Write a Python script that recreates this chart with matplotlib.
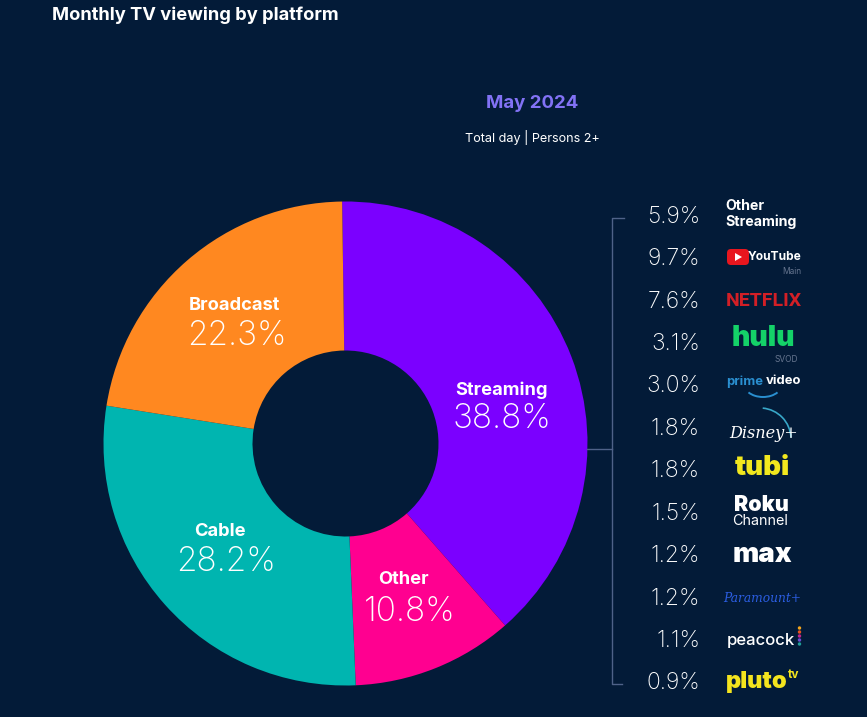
import matplotlib
matplotlib.use("Agg")
import matplotlib.pyplot as plt
from matplotlib.patches import FancyBboxPatch, Polygon, Arc, Circle

platforms = ["Streaming", "Other", "Cable", "Broadcast"]
shares = [38.8, 10.8, 28.2, 22.3]
platform_colors = ["#7B00FF", "#FF0090", "#00B5B0", "#FF8820"]
name_pos = [(502, 390), (403, 579), (219.5, 531), (234.5, 305)]
value_pos = [(502, 419), (410, 612), (226, 562), (236.5, 336)]

stream_values = ["5.9%", "9.7%", "7.6%", "3.1%", "3.0%", "1.8%", "1.8%", "1.5%", "1.2%", "1.2%", "1.1%", "0.9%"]
stream_y = [217, 259, 302, 344, 386, 429, 471, 514, 556, 599, 641, 683]

BG = "#031B38"
W, H = 867, 717
plt.rcParams["font.family"] = ["Inter", "DejaVu Sans"]
fig = plt.figure(figsize=(W / 100, H / 100), dpi=100, facecolor=BG)

cx, cy, R = 345.5, 443.5, 242
pie_ax = fig.add_axes([(cx - R) / W, 1 - (cy + R) / H, 2 * R / W, 2 * R / H])
pie_ax.pie(shares, colors=platform_colors, startangle=90.8, counterclock=False, radius=1,
           wedgeprops=dict(width=1 - 93 / 242, linewidth=0))
pie_ax.set_xlim(-1, 1)
pie_ax.set_ylim(-1, 1)
pie_ax.axis("off")

ax = fig.add_axes([0, 0, 1, 1])
ax.set_xlim(0, W)
ax.set_ylim(H, 0)
ax.axis("off")
ax.patch.set_alpha(0)

ax.text(52, 15.5, "Monthly TV viewing by platform", color="white", fontsize=13.2, fontweight="bold", va="center")
ax.text(532.5, 103, "May 2024", color="#8272F5", fontsize=13.4, fontweight="bold", va="center", ha="center")
ax.text(532.5, 137.5, "Total day | Persons 2+", color="white", fontsize=9.1, va="center", ha="center")

for name, val, (nx, ny), (vx, vy) in zip(platforms, shares, name_pos, value_pos):
    ax.text(nx, ny, name, color="white", fontsize=13.2, fontweight="bold", ha="center", va="center")
    ax.text(vx, vy, f"{val}%", color="white", fontsize=24.0, fontweight="light", ha="center", va="center")

bc = "#4F6288"
ax.plot([624, 612, 612, 622], [218, 218, 684, 684], color=bc, lw=1)
ax.plot([587, 612], [449, 449], color=bc, lw=1)

for v, y in zip(stream_values, stream_y):
    ax.text(700, y, v, color="white", fontsize=16.5, fontweight="light", ha="right", va="center")

ax.text(725, 206, "Other", color="white", fontsize=10.2, fontweight="bold", va="center")
ax.text(725, 222, "Streaming", color="white", fontsize=10.2, fontweight="bold", va="center")

ax.add_patch(FancyBboxPatch((727, 249), 22, 16, boxstyle="round,pad=0,rounding_size=4", fc="#E8161E", ec="none"))
ax.add_patch(Polygon([(735, 253), (735, 261), (742, 257)], fc="white", ec="none"))
ax.text(801, 257.5, "YouTube", color="white", fontsize=8.6, fontweight="bold", va="center", ha="right")
ax.text(801, 272, "Main", color="#66758F", fontsize=6, ha="right", va="center")

ax.text(764, 300.5, "NETFLIX", color="#D21F26", fontsize=14, fontweight="bold", ha="center", va="center",
        family=["Roboto", "Liberation Sans"])

ax.text(763.5, 339, "hulu", color="#14D268", fontsize=20.5, fontweight="black", ha="center", va="center")
ax.text(798, 359.5, "SVOD", color="#66758F", fontsize=6, ha="right", va="center")

ax.text(726, 381.5, "prime", color="#2A8FD0", fontsize=9.4, fontweight="bold", va="center")
ax.text(801, 381.5, "video", color="white", fontsize=9.4, fontweight="bold", va="center", ha="right")
ax.add_patch(Arc((763, 384), 38, 26, theta1=30, theta2=150, color="#2A8FD0", lw=1.4))

ax.add_patch(Arc((760, 439), 62, 62, theta1=275, theta2=357, color="#38A7C8", lw=1.2))
ax.text(764, 433, "Disney+", color="white", fontsize=11.6, style="italic", ha="center", va="center",
        family=["DejaVu Serif"])

ax.text(762, 468, "tubi", color="#F2E81E", fontsize=20, fontweight="black", ha="center", va="center")

ax.text(761, 505, "Roku", color="white", fontsize=15.5, fontweight="black", ha="center", va="center")
ax.text(760.5, 521, "Channel", color="white", fontsize=10.3, ha="center", va="center")

ax.text(762.5, 555, "max", color="white", fontsize=20, fontweight="black", ha="center", va="center")

ax.text(762, 598, "Paramount+", color="#2B5DE0", fontsize=8.8, style="italic", ha="center", va="center",
        family=["DejaVu Serif"])

ax.text(727, 640, "peacock", color="white", fontsize=12, fontweight="medium", va="center")
for dy, c in zip(range(628, 650, 4), ["#F4A51C", "#E8541E", "#C2248A", "#6A4FD0", "#1E9E9A"]):
    ax.add_patch(Circle((799.5, dy), 1.7, fc=c, ec="none"))

ax.text(726, 682, "pluto", color="#F4E41E", fontsize=17, fontweight="black", va="center")
ax.text(788, 675, "tv", color="#F4E41E", fontsize=8.5, fontweight="bold", va="center")

fig.savefig("out.png", dpi=100, facecolor=BG)
